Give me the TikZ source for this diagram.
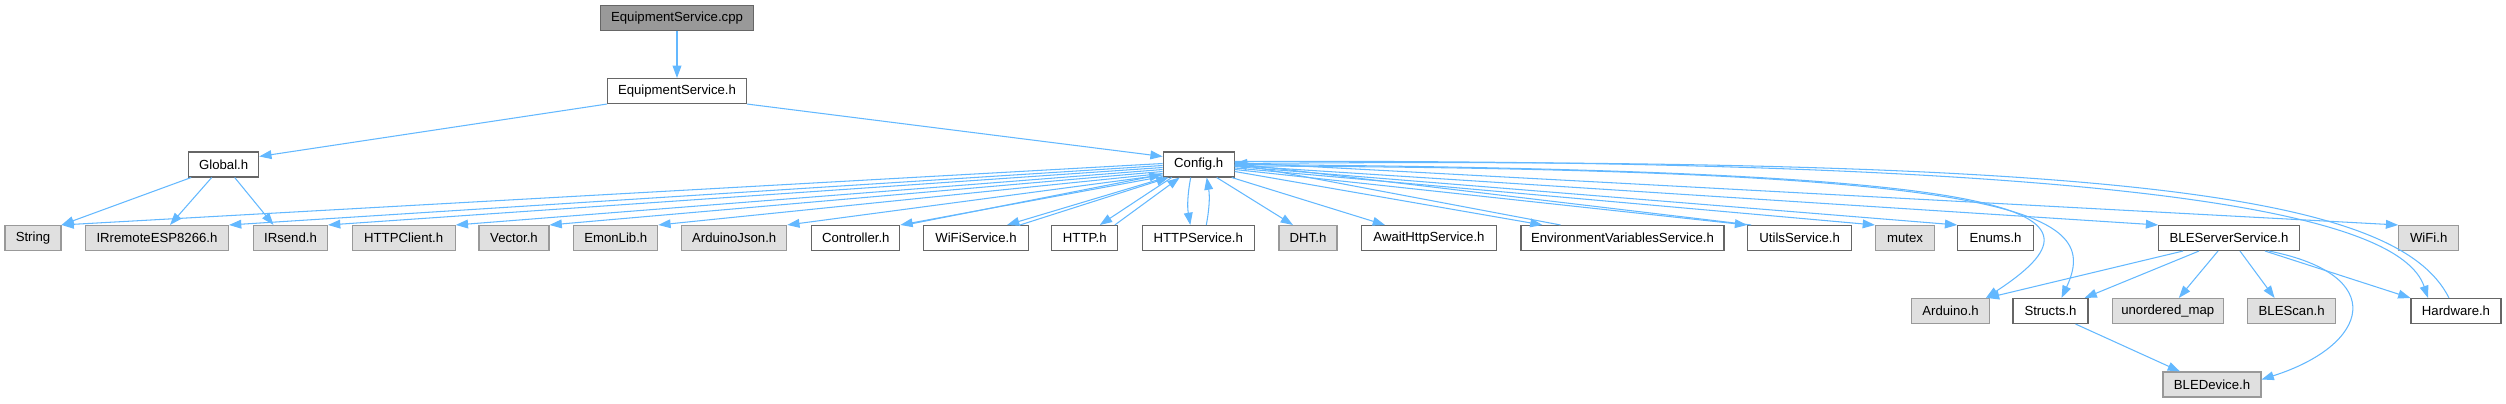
\documentclass[tikz,border=0pt]{standalone}
\usepackage{fontspec}
\setmainfont{Liberation Sans}
\usepackage{tikz}
\usetikzlibrary{arrows.meta,calc}
\usepackage{xcolor}
\definecolor{edgeblue}{HTML}{63B8FF}
\definecolor{boxgray}{HTML}{E0E0E0}
\definecolor{bordergray}{HTML}{999999}
\definecolor{borderdark}{HTML}{666666}

\begin{document}
\begin{tikzpicture}[x=0.02cm,y=-0.02cm,>={Triangle[length=7pt,width=5pt]},font=\fontsize{7.5}{9}\selectfont,
  hdr/.style={draw=borderdark,fill=white,line width=0.6pt,minimum height=0.5cm,inner sep=0pt},
  sys/.style={hdr,draw=bordergray,fill=boxgray},
  root/.style={hdr,fill=bordergray},
  wd/.style={minimum width=#1*0.02cm},
  dep/.style={->,draw=edgeblue,line width=0.6pt}]
\useasboundingbox (0,0) rectangle (2506,403);
% nodes
\node[root,wd=153] (cpp) at (677,18) {EquipmentService.cpp};
\node[hdr,wd=139] (esh) at (677,91) {EquipmentService.h};
\node[hdr,wd=70] (global) at (223.7,164.5) {Global.h};
\node[hdr,wd=71] (config) at (1198.7,164.5) {Config.h};
\node[sys,wd=56] (string) at (33,238) {String};
\node[sys,wd=143] (irremote) at (157,238) {IRremoteESP8266.h};
\node[sys,wd=74] (irsend) at (290.5,238) {IRsend.h};
\node[sys,wd=103] (httpclient) at (403.7,238) {HTTPClient.h};
\node[sys,wd=70] (vector) at (514,238) {Vector.h};
\node[sys,wd=84] (emonlib) at (615.8,238) {EmonLib.h};
\node[sys,wd=105] (arduinojson) at (734.2,238) {ArduinoJson.h};
\node[hdr,wd=88] (controller) at (855.8,238) {Controller.h};
\node[hdr,wd=105] (wifiservice) at (976,238) {WiFiService.h};
\node[hdr,wd=66] (http) at (1084.8,238) {HTTP.h};
\node[hdr,wd=112] (httpservice) at (1198.3,238) {HTTPService.h};
\node[sys,wd=58] (dht) at (1308,238) {DHT.h};
\node[hdr,wd=135] (await) at (1429,238) {AwaitHttpService.h};
\node[hdr,wd=203] (envvar) at (1622.5,238) {EnvironmentVariablesService.h};
\node[hdr,wd=104] (utils) at (1799.7,238) {UtilsService.h};
\node[sys,wd=59] (mutex) at (1905,238) {mutex};
\node[hdr,wd=75.5] (enums) at (1995.5,238) {Enums.h};
\node[hdr,wd=140.6] (bleserver) at (2229,238) {BLEServerService.h};
\node[sys,wd=60] (wifi) at (2428.7,238) {WiFi.h};
\node[sys,wd=77.5] (arduino) at (1950.6,311) {Arduino.h};
\node[hdr,wd=75] (structs) at (2050.5,311) {Structs.h};
\node[sys,wd=111] (unordered) at (2167.8,311) {unordered\_map};
\node[sys,wd=88] (blescan) at (2291.6,311) {BLEScan.h};
\node[hdr,wd=90] (hardware) at (2456,311) {Hardware.h};
\node[sys,wd=98] (bledevice) at (2212,384.5) {BLEDevice.h};
% top
\draw[dep] (cpp) -- (esh);
\draw[dep] (esh.south west) -- ($(global.north east)+(0,5)$);
\draw[dep] (esh.south east) -- ($(config.north west)+(0,5)$);
\draw[dep] ($(global.south west)+(3,0)$) -- (string.north east);
\draw[dep] ($(global.south)+(-12,0)$) -- ($(irremote.north)+(13,0)$);
\draw[dep] ($(global.south)+(11,0)$) -- ($(irsend.north)+(-17,0)$);
% Config.h, left side
\draw[dep] ($(config.west)+(0,-1)$) -- (string.north east);
\draw[dep] ($(config.west)+(0,1)$) -- (irremote.north east);
\draw[dep] ($(config.west)+(0,3)$) -- (irsend.north east);
\draw[dep] ($(config.west)+(0,5)$) -- (httpclient.north east);
\draw[dep] ($(config.west)+(0,7)$) -- (vector.north east);
\draw[dep] ($(config.west)+(0,9)$) -- (emonlib.north east);
\draw[dep] ($(config.west)+(0,10.5)$) -- (arduinojson.north east);
\draw[dep] ($(config.south west)+(0,-1)$) -- (controller.north east);
\draw[dep] ($(controller.north east)+(5,0)$) -- ($(config.south west)+(-1,-3)$);
\draw[dep] ($(config.south west)+(3,0)$) -- ($(wifiservice.north)+(31,0)$);
\draw[dep] ($(wifiservice.north)+(44,0)$) -- ($(config.south west)+(6,0)$);
\draw[dep] ($(config.south)+(-27,0)$) -- ($(http.north)+(15,0)$);
\draw[dep] ($(http.north)+(30,0)$) -- ($(config.south)+(-19,0)$);
\draw[dep] ($(config.south)+(-8,0)$) to[bend right=10] ($(httpservice.north)+(-8,0)$);
\draw[dep] ($(httpservice.north)+(8,0)$) to[bend right=10] ($(config.south)+(8,0)$);
% Config.h, right side
\draw[dep] ($(config.south)+(18,0)$) -- ($(dht.north)+(-15,0)$);
\draw[dep] ($(config.south east)+(-3,0)$) -- ($(await.north)+(-44,0)$);
\draw[dep] ($(config.east)+(0,7)$) -- ($(envvar.north)+(-80,0)$);
\draw[dep] ($(envvar.north)+(-62,0)$) -- ($(config.east)+(0,-1)$);
\draw[dep] ($(config.east)+(0,5)$) -- (utils.north west);
\draw[dep] ($(utils.north west)+(4,0)$) -- ($(config.east)+(0,-1)$);
\draw[dep] ($(config.east)+(0,3.5)$) -- (mutex.north west);
\draw[dep] ($(config.east)+(0,2)$) -- (enums.north west);
\draw[dep] ($(config.east)+(0,1)$) -- (bleserver.north west);
\draw[dep] ($(config.east)+(0,-2)$) -- (wifi.north west);
\draw[dep] (config.east) .. controls (2050,170) and (2120,210) .. ($(arduino.north east)+(-4,0)$);
\draw[dep] ($(config.east)+(0,1.5)$) .. controls (2040,168) and (2100,215) .. ($(structs.north)+(11,0)$);
\draw[dep] ($(config.east)+(0,-3)$) .. controls (2150,158) and (2400,215) .. ($(hardware.north)+(-28,0)$);
\draw[dep] ($(hardware.north)+(-7,0)$) .. controls (2400,200) and (2150,156) .. ($(config.east)+(0,-1)$);
% BLEServerService.h and Structs.h
\draw[dep] ($(bleserver.south)+(-46,0)$) -- ($(arduino.north east)+(-3,0)$);
\draw[dep] ($(bleserver.south)+(-30,0)$) -- ($(structs.north east)+(-4,0)$);
\draw[dep] ($(bleserver.south)+(-11,0)$) -- ($(unordered.north)+(11,0)$);
\draw[dep] ($(bleserver.south)+(11,0)$) -- ($(blescan.north)+(-17,0)$);
\draw[dep] ($(bleserver.south)+(36,0)$) -- (hardware.north west);
\draw[dep] ($(bleserver.south)+(40,0)$) .. controls (2390,275) and (2370,345) .. ($(bledevice.east)+(0,-5)$);
\draw[dep] ($(structs.south)+(25,0)$) -- ($(bledevice.north)+(-32,0)$);
\end{tikzpicture}
\end{document}
